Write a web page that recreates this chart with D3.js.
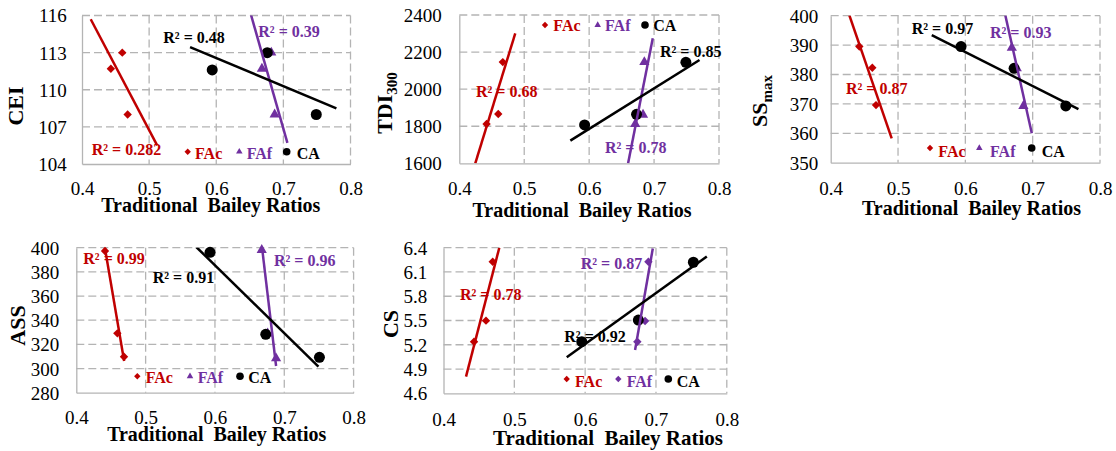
<!DOCTYPE html>
<html>
<head>
<meta charset="utf-8">
<script src="https://cdn.jsdelivr.net/npm/d3@7"></script>
<style>
  body { margin: 0; background: #fff; }
</style>
</head>
<body>
<svg id="chart" width="1116" height="451"></svg>
<script>
// ************************************
// Data
// ************************************

const xTicks = [0.4, 0.5, 0.6, 0.7, 0.8];
const seriesNames = ["FAc", "FAf", "CA"];
const seriesColors = ["#c00000", "#7030a0", "#000000"];

// CEI
const ceiTicks = [104, 107, 110, 113, 116];
const ceiFAc = [[0.460, 113.0], [0.443, 111.7], [0.468, 108.0]];
const ceiFAf = [[0.668, 111.7], [0.682, 113.0], [0.687, 108.0]];
const ceiCA  = [[0.594, 111.6], [0.676, 113.0], [0.749, 108.0]];
const ceiFitFAc = [[0.413, 115.7], [0.512, 105.5]];
const ceiFitFAf = [[0.651, 116.2], [0.706, 105.7]];
const ceiFitCA  = [[0.561, 113.45], [0.779, 108.5]];
const ceiR2 = ["0.282", "0.39", "0.48"];

// TDI300
const tdiTicks = [1600, 1800, 2000, 2200, 2400];
const tdiFAc = [[0.442, 1812], [0.460, 1866], [0.467, 2146]];
const tdiFAf = [[0.671, 1812], [0.683, 1862], [0.685, 2146]];
const tdiCA  = [[0.593, 1807], [0.673, 1864], [0.749, 2145]];
const tdiFitFAc = [[0.4246, 1600], [0.4862, 2301]];
const tdiFitFAf = [[0.660, 1600], [0.698, 2274]];
const tdiFitCA  = [[0.571, 1722], [0.770, 2157]];
const tdiR2 = ["0.68", "0.78", "0.85"];

// SSmax
const ssTicks = [350, 360, 370, 380, 390, 400];
const ssFAc = [[0.4425, 389.5], [0.4618, 382.3], [0.4673, 369.6]];
const ssFAf = [[0.669, 389.1], [0.6764, 382.1], [0.6862, 369.3]];
const ssCA  = [[0.5936, 389.5], [0.6724, 382.1], [0.7492, 369.3]];
const ssFitFAc = [[0.4276, 400.2], [0.4906, 358.3]];
const ssFitFAf = [[0.659, 400.5], [0.6987, 360]];
const ssFitCA  = [[0.5501, 393.4], [0.768, 368.2]];
const ssR2 = ["0.87", "0.93", "0.97"];

// ASS
const assTicks = [280, 300, 320, 340, 360, 380, 400];
const assFAc = [[0.4414, 397.3], [0.4592, 329.1], [0.4688, 309.8]];
const assFAf = [[0.6675, 398.1], [0.676, 329.0], [0.6882, 308.5]];
const assCA  = [[0.5929, 396.2], [0.6733, 328.3], [0.7507, 309.3]];
const assFitFAc = [[0.4412, 400], [0.469, 306.2]];
const assFitFAf = [[0.6675, 402.2], [0.6882, 302.1]];
const assFitCA  = [[0.5727, 400.8], [0.7493, 301.5]];
const assR2 = ["0.99", "0.96", "0.91"];

// CS
const csTicks = [4.6, 4.9, 5.2, 5.5, 5.8, 6.1, 6.4];
const csFAc = [[0.4431, 5.238], [0.460, 5.498], [0.4695, 6.227]];
const csFAf = [[0.6737, 5.238], [0.6846, 5.494], [0.6893, 6.227]];
const csCA  = [[0.5952, 5.238], [0.6751, 5.506], [0.7528, 6.22]];
const csFitFAc = [[0.4318, 4.806], [0.4788, 6.4]];
const csFitFAf = [[0.6705, 5.135], [0.6955, 6.39]];
const csFitCA  = [[0.574, 5.045], [0.7718, 6.29]];
const csR2 = ["0.78", "0.87", "0.92"];

// ************************************
// Layout of the five panels
// ************************************

const panels = [
  { x0: 82, x1: 350.5, y0: 15.5, y1: 164, yDomain: [104, 116], yTicks: ceiTicks, fmt: d3.format("d"),
    series: [ceiFAc, ceiFAf, ceiCA], fits: [ceiFitFAc, ceiFitFAf, ceiFitCA], r2: ceiR2,
    shapes: ["diamond", "triangle", "circle"],
    r2Pos: [[91.7, 155], [258.3, 37], [163.3, 43]],
    legX: [187.7, 239.3, 286.7], legY: 151.7, legTextX: [195, 246.7, 296.7], legTextY: 159,
    yLabGap: 15.3, xLabY: 195, title: { x: 23, y: 106, main: "CEI" },
    xTitle: { x: 210.8, y: 212, size: 20 } },
  { x0: 459.3, x1: 719, y0: 15, y1: 163.3, yDomain: [1600, 2400], yTicks: tdiTicks, fmt: d3.format("d"),
    series: [tdiFAc, tdiFAf, tdiCA], fits: [tdiFitFAc, tdiFitFAf, tdiFitCA], r2: tdiR2,
    shapes: ["diamond", "triangle", "circle"],
    r2Pos: [[476, 96.7], [605, 153], [660, 56.7]],
    legX: [545, 597.7, 645], legY: 25, legTextX: [553.3, 605, 653.3], legTextY: 31,
    yLabGap: 17.6, xLabY: 195, title: { x: 392, y: 103, main: "TDI", sub: "300" },
    xTitle: { x: 582, y: 216.5, size: 20 } },
  { x0: 830.7, x1: 1100, y0: 15.7, y1: 162.7, yDomain: [350, 400], yTicks: ssTicks, fmt: d3.format("d"),
    series: [ssFAc, ssFAf, ssCA], fits: [ssFitFAc, ssFitFAf, ssFitCA], r2: ssR2,
    shapes: ["diamond", "triangle", "circle"],
    r2Pos: [[846, 94], [990, 38], [911.7, 34.3]],
    legX: [930, 979.3, 1031.7], legY: 148, legTextX: [938.3, 990, 1041.7], legTextY: 156.7,
    yLabGap: 12.4, xLabY: 195, title: { x: 767, y: 101, main: "SS", sub: "max" },
    xTitle: { x: 971.5, y: 215, size: 20 } },
  { x0: 76.3, x1: 353.6, y0: 247.7, y1: 392.7, yDomain: [280, 400], yTicks: assTicks, fmt: d3.format("d"),
    series: [assFAc, assFAf, assCA], fits: [assFitFAc, assFitFAf, assFitCA], r2: assR2,
    shapes: ["diamond", "triangle", "circle"],
    r2Pos: [[83.3, 264.3], [274, 265.7], [152.7, 282.7]],
    legX: [137.3, 190, 240], legY: 376.3, legTextX: [145.7, 197.7, 248.3], legTextY: 383.3,
    yLabGap: 17, xLabY: 424, title: { x: 25, y: 325.5, main: "ASS" },
    xTitle: { x: 216.7, y: 441, size: 20 } },
  { x0: 443.5, x1: 726.8, y0: 247.7, y1: 393.3, yDomain: [4.6, 6.4], yTicks: csTicks, fmt: d3.format(".1f"),
    series: [csFAc, csFAf, csCA], fits: [csFitFAc, csFitFAf, csFitCA], r2: csR2,
    shapes: ["diamond", "diamond", "circle"],
    r2Pos: [[460, 300], [580.7, 269], [564.3, 341.7]],
    legX: [566.7, 618.3, 668.3], legY: 379, legTextX: [575, 626.7, 676.7], legTextY: 386.7,
    yLabGap: 16.2, xLabY: 425.7, title: { x: 398, y: 324, main: "CS" },
    xTitle: { x: 608, y: 444.5, size: 21 } }
];

const serif = "'Liberation Serif', 'Times New Roman', Times, 'DejaVu Serif', serif";
const svg = d3.select("#chart").style("font-family", serif);
const gridColor = "#b4b4b4";

// marker path for a shape, s = half size
function markerPath(shape, s) {
  if (shape === "diamond") return `M0,${-s}L${s},0L0,${s}L${-s},0Z`;
  if (shape === "triangle") return d3.symbol(d3.symbolTriangle, s * s * 1.8)();
  return d3.symbol(d3.symbolCircle, Math.PI * s * s)();
}

panels.forEach((p, pi) => {
  const x = d3.scaleLinear().domain([0.4, 0.8]).range([p.x0, p.x1]);
  const y = d3.scaleLinear().domain(p.yDomain).range([p.y1, p.y0]);
  const g = svg.append("g").attr("class", "panel");

  // clip for trendlines
  const clipId = "clip" + pi;
  svg.append("clipPath").attr("id", clipId)
    .append("rect")
    .attr("x", p.x0).attr("y", p.y0)
    .attr("width", p.x1 - p.x0).attr("height", p.y1 - p.y0);

  // Gridlines (dashed)
  g.append("g")
    .selectAll("line")
    .data(p.yTicks.slice(1))
    .enter().append("line")
    .attr("x1", p.x0).attr("x2", p.x1)
    .attr("y1", d => y(d)).attr("y2", d => y(d))
    .attr("stroke", gridColor).attr("stroke-width", 1.3)
    .attr("stroke-dasharray", "8,4");

  g.append("g")
    .selectAll("line")
    .data(xTicks.slice(1))
    .enter().append("line")
    .attr("x1", d => x(d)).attr("x2", d => x(d))
    .attr("y1", p.y0).attr("y2", p.y1)
    .attr("stroke", gridColor).attr("stroke-width", 1.3)
    .attr("stroke-dasharray", "8,4");

  // Axes
  const xAxis = g.append("g")
    .attr("class", "x axis")
    .attr("transform", `translate(0,${p.y1})`)
    .call(d3.axisBottom(x).tickValues(xTicks).tickSize(0).tickPadding(0).tickFormat(d3.format(".1f")));
  xAxis.attr("font-family", null);
  xAxis.select(".domain").attr("stroke", gridColor).attr("stroke-width", 1.3);
  xAxis.selectAll("text")
    .attr("y", p.xLabY - p.y1).attr("dy", null)
    .style("font-family", serif)
    .style("font-size", "19px").attr("fill", "#000");

  const yAxis = g.append("g")
    .attr("class", "y axis")
    .attr("transform", `translate(${p.x0},0)`)
    .call(d3.axisLeft(y).tickValues(p.yTicks).tickSize(0).tickPadding(p.yLabGap).tickFormat(p.fmt));
  yAxis.attr("font-family", null);
  yAxis.select(".domain").attr("stroke", gridColor).attr("stroke-width", 1.3);
  yAxis.selectAll("text").attr("dy", "0.34em")
    .style("font-family", serif)
    .style("font-size", "19px").attr("fill", "#000");

  // Markers
  p.series.forEach((pts, si) => {
    g.append("g")
      .selectAll("path")
      .data(pts)
      .enter().append("path")
      .attr("transform", d => `translate(${x(d[0])},${y(d[1])})`)
      .attr("d", markerPath(p.shapes[si], si === 2 ? 5.5 : (p.shapes[si] === "triangle" ? 5 : 4.2)))
      .attr("fill", seriesColors[si]);
  });

  // Trendlines
  const line = d3.line().x(d => x(d[0])).y(d => y(d[1]));
  g.append("g")
    .attr("clip-path", `url(#${clipId})`)
    .selectAll("path")
    .data(p.fits)
    .enter().append("path")
    .attr("d", line)
    .attr("fill", "none")
    .attr("stroke", (d, i) => seriesColors[i])
    .attr("stroke-width", 2.5);

  // R² labels
  g.append("g")
    .selectAll("text")
    .data(p.r2)
    .enter().append("text")
    .attr("x", (d, i) => p.r2Pos[i][0])
    .attr("y", (d, i) => p.r2Pos[i][1])
    .attr("fill", (d, i) => seriesColors[i])
    .style("font-family", serif)
    .style("font-size", "16px").style("font-weight", "bold")
    .text(d => "R\u00B2 = " + d);

  // Legend
  const leg = g.append("g");
  seriesNames.forEach((name, si) => {
    leg.append("path")
      .attr("transform", `translate(${p.legX[si]},${p.legY})`)
      .attr("d", markerPath(p.shapes[si], si === 2 ? 3.8 : 3.2))
      .attr("fill", seriesColors[si]);
    leg.append("text")
      .attr("x", p.legTextX[si]).attr("y", p.legTextY)
      .attr("fill", seriesColors[si])
      .style("font-family", serif)
      .style("font-size", "16px").style("font-weight", "bold")
      .text(name);
  });

  // Axis titles
  g.append("text")
    .attr("x", p.xTitle.x).attr("y", p.xTitle.y)
    .attr("text-anchor", "middle")
    .style("font-family", serif)
    .style("font-size", p.xTitle.size + "px").style("font-weight", "bold")
    .style("white-space", "pre")
    .text("Traditional  Bailey Ratios");

  const yt = g.append("text")
    .attr("transform", `translate(${p.title.x},${p.title.y}) rotate(-90)`)
    .attr("text-anchor", "middle")
    .style("font-family", serif)
    .style("font-size", "22px").style("font-weight", "bold");
  yt.append("tspan").text(p.title.main);
  if (p.title.sub) {
    yt.append("tspan").attr("dy", 5).style("font-size", "15px").text(p.title.sub);
  }
});
</script>
</body>
</html>
